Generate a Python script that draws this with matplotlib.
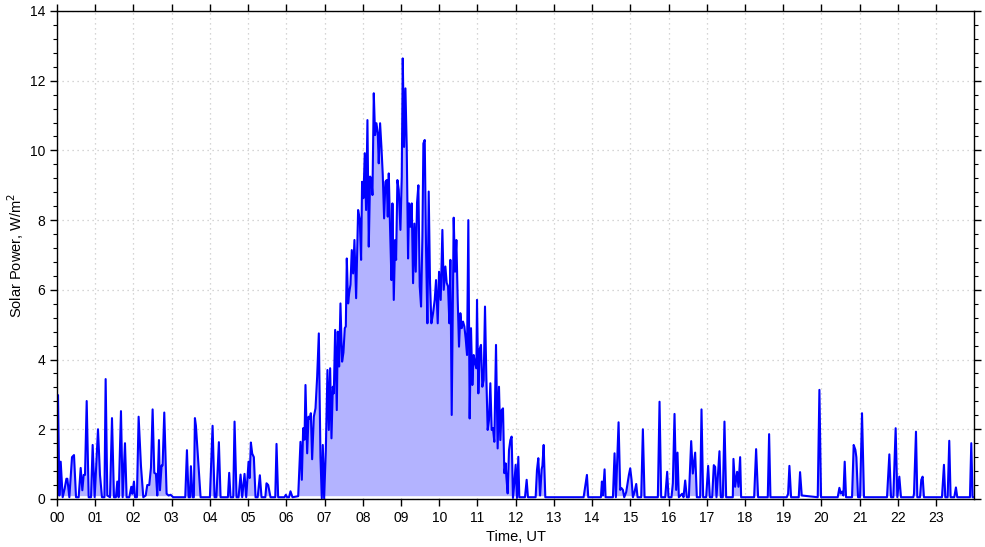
import matplotlib
matplotlib.use("Agg")
import matplotlib.pyplot as plt
import numpy as np
from matplotlib.ticker import MultipleLocator

plt.rcParams['font.family'] = ['Liberation Sans', 'DejaVu Sans']

# Time (hours, UT) of each vertex and solar power (W/m^2)
time_h = [
    0.0, 0.026, 0.061, 0.096, 0.148, 0.2, 0.245, 0.27, 0.322, 0.392, 0.444, 0.497, 0.566, 0.619, 0.662, 0.697,
    0.732, 0.776, 0.828, 0.889, 0.932, 0.985, 1.072, 1.124, 1.176, 1.24, 1.272, 1.316, 1.386, 1.438, 1.49,
    1.54, 1.577, 1.612, 1.673, 1.717, 1.778, 1.821, 1.89, 1.943, 1.97, 2.013, 2.04, 2.09, 2.135, 2.196,
    2.257, 2.32, 2.361, 2.413, 2.458, 2.501, 2.545, 2.588, 2.623, 2.667, 2.693, 2.736, 2.762, 2.806, 2.867,
    2.919, 2.972, 3.04, 3.355, 3.399, 3.442, 3.48, 3.503, 3.547, 3.58, 3.608, 3.634, 3.704, 3.756,
    4.0, 4.07, 4.122, 4.17, 4.235, 4.279, 4.471, 4.505, 4.54, 4.61, 4.645, 4.697, 4.75, 4.802, 4.845,
    4.906, 4.95, 5.011, 5.04, 5.072, 5.107, 5.15, 5.194, 5.25, 5.307, 5.351, 5.45, 5.481, 5.525, 5.586,
    5.71, 5.743, 5.786, 5.95, 5.987, 6.02, 6.07, 6.109, 6.161, 6.31,
    6.37, 6.405, 6.44, 6.475, 6.501, 6.545, 6.58, 6.614, 6.641, 6.675, 6.719, 6.763, 6.806, 6.85, 6.893,
    6.928, 6.954, 6.989, 7.033, 7.076, 7.111, 7.146, 7.181, 7.216, 7.242, 7.277, 7.32, 7.346, 7.381, 7.416,
    7.459, 7.494, 7.529, 7.556, 7.582, 7.617, 7.643, 7.678, 7.712, 7.747, 7.782, 7.826, 7.878, 7.922, 7.956,
    7.982, 8.017, 8.052, 8.087, 8.122, 8.157, 8.192, 8.227, 8.253, 8.288, 8.322, 8.357, 8.392, 8.418, 8.453,
    8.488, 8.523, 8.558, 8.593, 8.627, 8.654, 8.68, 8.715, 8.75, 8.776, 8.811, 8.846, 8.872, 8.906, 8.941,
    8.985, 9.02, 9.046, 9.081, 9.116, 9.15, 9.185, 9.211, 9.246, 9.281, 9.316, 9.35, 9.386, 9.42, 9.455,
    9.49, 9.525, 9.56, 9.586, 9.621, 9.656, 9.691, 9.725, 9.76, 9.795, 9.839, 9.882, 9.917, 9.961, 9.996,
    10.039, 10.083, 10.118, 10.161, 10.196, 10.231, 10.266, 10.292, 10.327, 10.379, 10.414, 10.449, 10.484,
    10.518, 10.553, 10.588, 10.623, 10.658, 10.693, 10.728, 10.762, 10.797, 10.832, 10.867, 10.902, 10.937,
    10.972, 10.989, 11.024, 11.059, 11.093, 11.128, 11.163, 11.198, 11.233, 11.268, 11.303, 11.338, 11.373,
    11.407, 11.442, 11.486, 11.529, 11.564, 11.599, 11.634, 11.669, 11.704, 11.739, 11.756, 11.791, 11.826,
    11.861, 11.895, 11.93, 11.965, 12.0, 12.035, 12.07, 12.096, 12.244, 12.288, 12.322,
    12.523, 12.558, 12.593, 12.64, 12.68, 12.7, 12.733, 12.776, 13.778, 13.865, 13.9, 14.231, 14.257,
    14.283, 14.327, 14.353, 14.545, 14.588, 14.623, 14.693, 14.736, 14.771, 14.806, 14.841, 14.893, 14.928,
    14.963, 14.998, 15.033, 15.068, 15.111, 15.155, 15.19, 15.285, 15.329, 15.373, 15.721, 15.765, 15.808,
    15.913, 15.965, 16.0, 16.078, 16.113, 16.157, 16.2, 16.235, 16.27, 16.357, 16.392, 16.436, 16.479,
    16.532, 16.593, 16.636, 16.697, 16.741, 16.828, 16.863, 16.906, 16.985, 17.037, 17.081, 17.142, 17.185,
    17.22, 17.255, 17.333, 17.368, 17.42, 17.464, 17.508, 17.682, 17.699, 17.743, 17.795, 17.83, 17.874,
    17.9, 18.24, 18.292, 18.344, 18.597, 18.632, 18.667, 19.094, 19.129, 19.163, 19.207, 19.407, 19.442,
    19.486, 19.904, 19.948, 19.991, 20.427, 20.471, 20.506, 20.541, 20.575, 20.61, 20.645, 20.802, 20.845,
    20.889, 20.915, 20.959, 21.011, 21.063, 21.115, 21.717, 21.778, 21.822, 21.882, 21.943, 21.987, 22.039,
    22.083, 22.405, 22.423, 22.475, 22.51, 22.58, 22.614, 22.649, 22.684, 23.155, 23.207, 23.242, 23.303,
    23.346, 23.381, 23.477, 23.52, 23.555, 23.887, 23.922, 23.956, 24.0,
]
power = [
    0.3, 2.98, 0.1, 1.07, 0.05, 0.3, 0.58, 0.58, 0.05, 1.2, 1.26, 0.05, 0.05, 0.89, 0.25, 0.69,
    0.69, 2.81, 0.05, 0.05, 1.55, 0.05, 2.0, 0.69, 0.05, 0.05, 3.44, 0.1, 0.05, 2.32, 0.05,
    0.05, 0.5, 0.05, 2.52, 0.05, 1.6, 0.05, 0.05, 0.35, 0.15, 0.5, 0.05, 0.05, 2.36, 0.95,
    0.05, 0.1, 0.4, 0.4, 0.9, 2.57, 0.75, 0.72, 0.1, 1.69, 0.25, 0.96, 0.96, 2.48, 0.15,
    0.1, 0.12, 0.05, 0.05, 1.4, 0.05, 0.05, 0.94, 0.05, 0.05, 2.32, 2.1, 0.94, 0.05,
    0.05, 2.1, 0.05, 0.05, 1.63, 0.05, 0.05, 0.75, 0.05, 0.05, 2.22, 0.05, 0.05, 0.7, 0.05,
    0.72, 0.05, 1.07, 0.6, 1.62, 1.3, 1.2, 0.05, 0.05, 0.68, 0.05, 0.05, 0.45, 0.4, 0.05,
    0.05, 1.58, 0.05, 0.05, 0.12, 0.05, 0.05, 0.22, 0.05, 0.08,
    1.64, 0.55, 2.03, 1.7, 3.27, 1.31, 2.36, 2.3, 2.46, 1.14, 2.36, 2.6, 3.5, 4.75, 1.2,
    0.02, 1.55, 0.02, 1.4, 3.7, 1.98, 3.75, 1.74, 3.22, 3.03, 4.85, 2.55, 4.8, 3.8, 5.61,
    3.94, 4.2, 4.9, 4.95, 6.9, 5.61, 5.9, 6.15, 7.14, 6.47, 7.43, 5.76, 8.29, 8.0, 6.86,
    9.1, 8.63, 9.92, 8.29, 10.87, 7.24, 9.25, 9.15, 8.72, 11.64, 10.44, 10.78, 10.5, 9.63, 10.78,
    10.1, 9.3, 8.05, 9.1, 9.15, 8.1, 9.34, 7.72, 6.28, 8.48, 5.71, 7.43, 6.86, 9.15, 8.87,
    7.72, 9.25, 12.64, 10.1, 11.78, 10.1, 6.9, 8.48, 7.81, 8.48, 6.19, 7.9, 6.52, 8.5, 9.0,
    6.1, 5.52, 7.53, 10.2, 10.3, 7.14, 5.04, 8.82, 6.19, 5.04, 5.33, 5.71, 6.28, 5.04, 6.52,
    5.71, 7.72, 6.0, 6.67, 6.2, 6.1, 5.04, 6.86, 2.41, 8.07, 6.52, 7.43, 5.71,
    4.37, 5.33, 4.9, 5.09, 4.95, 4.6, 4.13, 8.0, 2.31, 4.9, 3.27, 4.13, 3.9,
    3.75, 5.71, 3.03, 4.3, 4.42, 3.22, 3.41, 5.52, 3.51, 1.98, 2.27, 3.32, 1.98,
    2.03, 1.64, 4.42, 1.45, 3.22, 1.69, 2.55, 2.6, 0.74, 1.02, 0.65, 0.16, 1.4,
    1.69, 1.79, 0.03, 0.45, 0.98, 0.03, 1.21, 0.05, 0.05, 0.55, 0.05,
    0.05, 0.83, 1.17, 0.1, 0.85, 0.95, 1.55, 0.05, 0.05, 0.69, 0.05, 0.05, 0.5,
    0.1, 0.85, 0.05, 0.05, 1.31, 0.05, 2.2, 0.26, 0.31, 0.26, 0.05, 0.2, 0.45,
    0.69, 0.88, 0.55, 0.05, 0.2, 0.43, 0.05, 0.05, 2.0, 0.05, 0.05, 2.79, 0.05,
    0.05, 0.78, 0.05, 0.05, 0.45, 2.44, 0.26, 1.33, 0.05, 0.15, 0.05, 0.53, 0.05,
    0.05, 1.66, 0.73, 1.33, 0.05, 0.05, 2.57, 0.05, 0.05, 0.95, 0.05, 0.05, 0.97,
    0.92, 0.05, 1.37, 0.05, 0.05, 2.22, 0.05, 0.05, 1.15, 0.35, 0.78, 0.35, 1.2,
    0.05, 0.05, 1.43, 0.05, 0.05, 1.86, 0.05, 0.05, 0.15, 0.95, 0.05, 0.05, 0.77,
    0.1, 0.05, 3.13, 0.05, 0.05, 0.32, 0.16, 0.21, 0.1, 1.07, 0.05, 0.05, 1.55,
    1.41, 1.2, 0.05, 0.05, 2.46, 0.05, 0.05, 1.28, 0.05, 0.05, 2.03, 0.05, 0.64,
    0.05, 0.05, 0.15, 1.93, 0.05, 0.05, 0.55, 0.64, 0.05, 0.05, 0.98, 0.05, 0.05,
    1.67, 0.05, 0.05, 0.33, 0.05, 0.05, 1.6, 0.05, 0.05,
]
hour_ticks = list(range(24))
hour_labels = ["%02d" % h for h in hour_ticks]
power_ticks = [0, 2, 4, 6, 8, 10, 12, 14]

fig = plt.figure(figsize=(9.85, 5.47), dpi=100)
ax = fig.add_axes([0.0579, 0.0878, 0.9312, 0.8921])

t = np.array(time_h)
p = np.array(power)
ax.fill_between(t, p, 0.08, where=p >= 0.08, interpolate=True,
                color='#b3b3ff', linewidth=0, zorder=1)
ax.plot(t, p, color='#0000ff', linewidth=1.5, zorder=2)

ax.set_xlim(0, 24)
ax.set_ylim(0, 14)
ax.set_xticks(hour_ticks)
ax.set_xticklabels(hour_labels)
ax.set_yticks(power_ticks)
ax.yaxis.set_minor_locator(MultipleLocator(0.4))
ax.grid(True, which='major', linestyle=(0, (1, 3)), color='#c8c8c8', linewidth=0.9, zorder=0)
ax.set_axisbelow(True)

ax.tick_params(axis='both', which='both', direction='out', top=True, right=True,
               labelsize=10, colors='black')
ax.tick_params(axis='both', which='major', length=5, width=1)
ax.tick_params(axis='both', which='minor', length=3, width=0.8)
for s in ax.spines.values():
    s.set_linewidth(1.0)

ax.set_xlabel('Time, UT', fontsize=10.5, labelpad=4)
ax.set_ylabel('Solar Power, W/m$^2$', fontsize=10.5, labelpad=3)

fig.savefig('out.png', dpi=100)
